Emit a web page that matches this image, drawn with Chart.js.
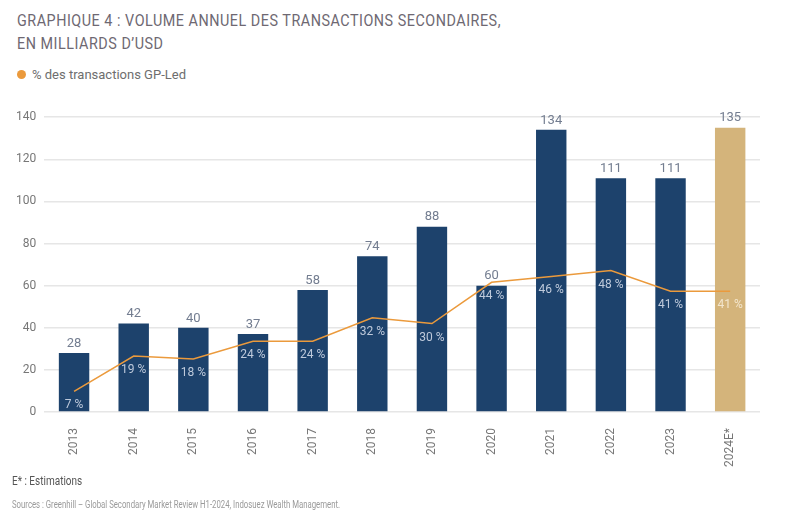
<!DOCTYPE html>
<html>
<head>
<meta charset="utf-8">
<script src="https://cdn.jsdelivr.net/npm/chart.js@4.4.1/dist/chart.umd.min.js"></script>
<style>
  body { margin: 0; background: #fff; font-family: Roboto, "Open Sans", sans-serif; }
  #wrap { position: relative; width: 786px; height: 518px; overflow: hidden; }
  .title { position: absolute; left: 17px; top: 9px; color: #6e6872; font-size: 16.5px; line-height: 23px; letter-spacing: 0.6px; white-space: nowrap; transform: scaleX(0.87); transform-origin: left top; }
  .legend { position: absolute; left: 17px; top: 67px; color: #6e6e6e; font-size: 13px; display: flex; align-items: center; white-space: nowrap; }
  .legend span.dot { width: 9px; height: 9px; border-radius: 50%; background: #eb9a3c; margin-right: 6px; display: inline-block; }
  .chartbox { position: absolute; left: 0; top: 102px; width: 786px; height: 373px; }
  .note { position: absolute; left: 12px; top: 473px; color: #555; font-size: 12.5px; white-space: nowrap; transform: scaleX(0.8); transform-origin: left top; }
  .src { position: absolute; left: 12px; top: 498px; color: #9a9a9a; font-size: 10.5px; white-space: nowrap; transform: scaleX(0.74); transform-origin: left top; }
</style>
</head>
<body>
<div id="wrap">
  <div class="title">GRAPHIQUE 4 : VOLUME ANNUEL DES TRANSACTIONS SECONDAIRES,<br>EN MILLIARDS D’USD</div>
  <div class="legend"><span class="dot"></span>% des transactions GP-Led</div>
  <div class="chartbox"><canvas id="myChart"></canvas></div>
  <div class="note">E* : Estimations</div>
  <div class="src">Sources : Greenhill – Global Secondary Market Review H1-2024, Indosuez Wealth Management.</div>
</div>
<script>
const years = ["2013", "2014", "2015", "2016", "2017", "2018", "2019", "2020", "2021", "2022", "2023", "2024E*"];
const volumes = [28, 42, 40, 37, 58, 74, 88, 60, 134, 111, 111, 135];
const gpLedPct = [7, 19, 18, 24, 24, 32, 30, 44, 46, 48, 41, 41];
const yTicks = [0, 20, 40, 60, 80, 100, 120, 140];

const barColors = years.map((y) => (y.includes("E") ? "#d4b47b" : "#1d426c"));

// value labels above bars, percent labels under the line points
const labelPlugin = {
  id: "labels",
  afterDatasetsDraw(chart) {
    const ctx = chart.ctx;
    const bars = chart.getDatasetMeta(1).data;
    const pts = chart.getDatasetMeta(0).data;
    ctx.save();
    ctx.textAlign = "center";
    ctx.font = "13px Roboto";
    ctx.fillStyle = "#737d90";
    ctx.textBaseline = "bottom";
    bars.forEach((b, i) => {
      ctx.fillText(volumes[i], b.x, b.y - 3);
    });
    ctx.font = "12px Roboto";
    ctx.textBaseline = "middle";
    pts.forEach((p, i) => {
      ctx.fillStyle = years[i].includes("E") ? "#f3e6cd" : "#bfcadb";
      ctx.fillText(gpLedPct[i] + " %", p.x, p.y + 14);
    });
    ctx.restore();
  },
};

const ctx = document.getElementById("myChart").getContext("2d");
new Chart(ctx, {
  type: "bar",
  data: {
    labels: years,
    datasets: [
      {
        type: "line",
        data: gpLedPct,
        yAxisID: "y1",
        borderColor: "#eb9a3c",
        borderWidth: 1.5,
        pointRadius: 0,
        tension: 0,
        order: 0,
      },
      {
        data: volumes,
        backgroundColor: barColors,
        barPercentage: 0.51,
        categoryPercentage: 1,
        order: 1,
      },
    ],
  },
  options: {
    responsive: true,
    maintainAspectRatio: false,
    animation: false,
    layout: { padding: { left: 8, right: 26, top: 6, bottom: 0 } },
    plugins: {
      legend: { display: false },
      tooltip: { enabled: false },
    },
    scales: {
      y: {
        min: 0,
        max: 140,
        afterBuildTicks: (axis) => {
          axis.ticks = yTicks.map((v) => ({ value: v }));
        },
        border: { display: false },
        grid: { color: "#e6e6e6", lineWidth: 1.5, drawTicks: false },
        ticks: { color: "#777", font: { size: 12, family: "Roboto" }, padding: 8 },
      },
      y1: {
        display: false,
        min: 0,
        max: 100,
      },
      x: {
        border: { display: false },
        grid: { display: false },
        ticks: {
          color: "#777",
          font: { size: 12, family: "Roboto" },
          maxRotation: 90,
          minRotation: 90,
          padding: 8,
        },
      },
    },
  },
  plugins: [labelPlugin],
});
</script>
</body>
</html>
